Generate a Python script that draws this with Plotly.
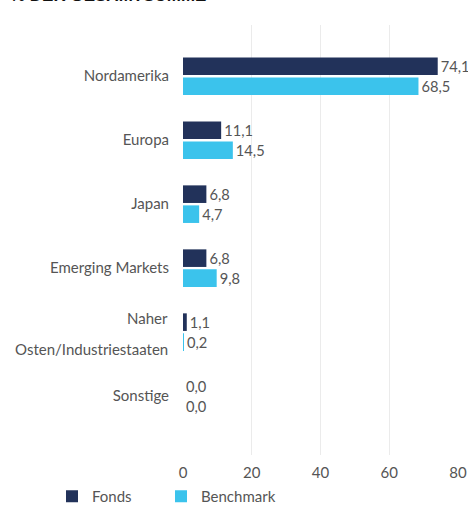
import plotly.graph_objects as go

categories = ["Nordamerika", "Europa", "Japan", "Emerging Markets",
              "Naher Osten/Industriestaaten", "Sonstige"]
fonds = [74.1, 11.1, 6.8, 6.8, 1.1, 0.0]
benchmark = [68.5, 14.5, 4.7, 9.8, 0.2, 0.0]
tick_labels = ["Nordamerika", "Europa", "Japan", "Emerging Markets", "", "Sonstige"]
x_ticks = [0, 20, 40, 60, 80]

FONT = "Lato, Roboto, sans-serif"
NAVY = "#22325a"
CYAN = "#3bc3ec"
GREY = "#555555"

def fmt(v):
    return f"{v:.1f}".replace(".", ",")

fig = go.Figure()
fig.add_trace(go.Bar(
    y=categories, x=fonds, orientation="h", name="Fonds", legendwidth=64,
    marker=dict(color=NAVY, line=dict(width=0)),
    text=[fmt(v) for v in fonds], textposition="outside",
    textfont=dict(family=FONT, size=15, color=GREY), cliponaxis=False,
))
fig.add_trace(go.Bar(
    y=categories, x=benchmark, orientation="h", name="Benchmark", legendwidth=110,
    marker=dict(color=CYAN, line=dict(width=0)),
    text=[fmt(v) for v in benchmark], textposition="outside",
    textfont=dict(family=FONT, size=15, color=GREY), cliponaxis=False,
))

fig.update_layout(
    width=468, height=513,
    margin=dict(l=183, r=10, t=25, b=58, autoexpand=False),
    paper_bgcolor="white", plot_bgcolor="white",
    barmode="group", bargap=0.375, bargroupgap=0.12,
    font=dict(family=FONT, size=15, color=GREY),
    xaxis=dict(range=[0, 80], tickvals=x_ticks, ticktext=[str(t) for t in x_ticks],
               showgrid=True, gridcolor="#ebebeb", gridwidth=1, zeroline=False,
               showline=False, ticks="", automargin=False, ticklabelstandoff=7,
               tickfont=dict(family=FONT, size=15, color=GREY)),
    yaxis=dict(categoryorder="array", categoryarray=categories,
               tickvals=categories, ticktext=tick_labels,
               range=[5.92, -0.8], showgrid=False, zeroline=False, showline=False,
               ticks="", ticklabelstandoff=13, automargin=False,
               tickfont=dict(family=FONT, size=15, color=GREY)),
    legend=dict(orientation="h", x=52/468, xref="container", y=-0.025, yref="container",
                xanchor="left", yanchor="bottom", font=dict(family=FONT, size=15, color=GREY),
                itemwidth=30, traceorder="normal"),
    showlegend=True,
)

fig.add_annotation(text="Naher", xref="paper", yref="y", x=0, y=4, yshift=14,
                   xanchor="right", xshift=-13, showarrow=False,
                   font=dict(family=FONT, size=15, color=GREY))
fig.add_annotation(text="Osten/Industriestaaten", xref="paper", yref="y", x=0, y=4, yshift=-17,
                   xanchor="right", xshift=-13, showarrow=False,
                   font=dict(family=FONT, size=15, color=GREY))
fig.add_annotation(text="<b>% DER GESAMTSUMME</b>", xref="paper", yref="paper",
                   x=-175/275, y=1, yshift=18, xanchor="left", yanchor="bottom",
                   showarrow=False, font=dict(family="Liberation Sans", size=17, color="#111111"))

fig.write_html("out.html", config={"displayModeBar": False},
               post_script="document.body.style.margin='0';")
